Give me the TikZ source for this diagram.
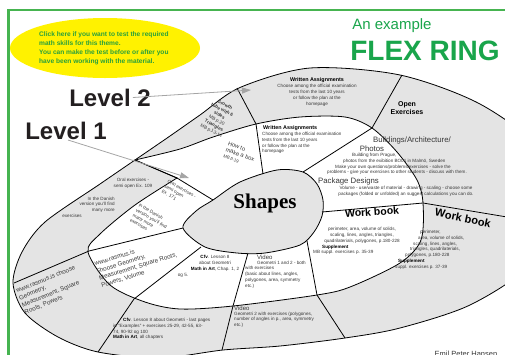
\documentclass[tikz,border=0pt]{standalone}
\usepackage{fontspec}
\setmainfont{Liberation Sans}
\newfontfamily\shapesfont{Liberation Serif}
\usetikzlibrary{arrows.meta,positioning}

\definecolor{framegreen}{RGB}{70,180,80}
\definecolor{titlegreen}{RGB}{25,165,75}
\definecolor{notegreen}{RGB}{40,160,60}
\definecolor{notefill}{RGB}{255,242,0}
\definecolor{ringgray}{RGB}{228,228,228}
\definecolor{textgray}{RGB}{55,55,55}
\definecolor{arrowgray}{RGB}{165,165,165}
\definecolor{levelgray}{RGB}{35,31,32}

\tikzset{
	note/.style = {align=left, inner sep=0pt, text=notegreen, font=\fontsize{6.6}{9}\selectfont\bfseries},
	smalltext/.style = {align=center, inner sep=0pt, text=textgray, font=\fontsize{4.6}{5.8}\selectfont},
	smallhead/.style = {align=center, inner sep=0pt, font=\fontsize{5.4}{6}\selectfont\bfseries},
	midtext/.style = {align=center, inner sep=0pt, text=textgray, font=\fontsize{7.8}{9}\selectfont},
	wwwtext/.style = {align=left, inner sep=0pt, text=textgray, font=\fontsize{6.2}{7.6}\selectfont},
	booktitle/.style = {inner sep=0pt, font=\fontsize{10.5}{11}\selectfont\bfseries},
	levellabel/.style = {inner sep=0pt, text=levelgray, font=\fontsize{24}{24}\selectfont\bfseries},
	levelarrow/.style = {draw=arrowgray, line width=0.8pt, -{Triangle[length=9pt,width=6pt]}},
	ringline/.style = {draw=black, line width=0.8pt}
}

\begin{document}
\begin{tikzpicture}[x=1pt, y=-1pt]
\useasboundingbox (0,0) rectangle (505,354);

% frame and heading
\draw[framegreen, line width=2.2pt] (8.5,356) -- (8.5,10) -- (507,10);
\fill[notefill] (105,48) ellipse [x radius=95pt, y radius=30pt];
\node[note, anchor=west] (notetext) at (39,48) {Click here if you want to test the required\\math skills for this theme.\\You can make the test before or after you\\have been working with the material.};
\node[inner sep=0pt, text=titlegreen, font=\fontsize{15}{15}\selectfont] (example) at (392,26) {An example};
\node[inner sep=0pt, text=titlegreen, font=\fontsize{28}{28}\selectfont\bfseries] (flexring) at (425,51) {FLEX RING};

% outer ring, inner ring and centre
\path[ringline, fill=ringgray] plot[smooth cycle] coordinates {
	(13,283) (22,252) (45,222) (100,184) (135,160) (170,136) (200,115) (240,87.5)
	(310,68) (400,75) (480,104) (540,150) (555,210) (530,265) (470,305) (400,328)
	(345,338) (280,346) (223,350) (160,358) (98,352) (58,337) (25,313)};
\path[ringline, fill=white] plot[smooth] coordinates {
	(135,160) (180,149) (213,137) (256,124) (300,117) (345,117) (372,128) (397,152)
	(417,180) (423,203) (421,240) (400,263) (350,287) (317,295) (233,306) (180,309)
	(145,302) (110,285) (88,252) (100,234) (135,205) (177,178)} -- cycle;
\path[ringline, fill=ringgray] plot[smooth cycle] coordinates {
	(183,228) (196,211) (213,200) (240,182) (277,170) (303,172) (317,184) (323,200)
	(322,216) (314,232) (300,245) (265,253) (237,253) (205,247)};

% dividers
\coordinate (d1a) at (135,160); \coordinate (d1b) at (177,178); \coordinate (d1c) at (213,200);
\coordinate (d2a) at (183,228); \coordinate (d2b) at (89,251);  \coordinate (d2c) at (14,283);
\coordinate (d3a) at (201,247); \coordinate (d3b) at (134,299); \coordinate (d3c) at (98,352);
\coordinate (d4a) at (237,88);  \coordinate (d4b) at (256,124); \coordinate (d4c) at (263,174);
\coordinate (d5a) at (402,75);  \coordinate (d5b) at (372,128); \coordinate (d5c) at (303,172);
\coordinate (d6a) at (322,212); \coordinate (d6b) at (423,203); \coordinate (d6c) at (507,217);
\coordinate (d7a) at (307,241); \coordinate (d7b) at (317,295); \coordinate (d7c) at (345,338);
\coordinate (d8a) at (248,253); \coordinate (d8b) at (233,306); \coordinate (d8c) at (222,350);
\foreach \d in {d1,d2,d3,d4,d5,d6,d7,d8}
	\draw[ringline] (\d a) -- (\d b) -- (\d c);

% level 2 texts
\node[smallhead] (wa2head) at (317,80) {Written Assignments};
\node[smalltext, below=1.5pt of wa2head] (wa2body) {Choose among the official examination\\tests from the last 10 years\\or follow the plan at the\\homepage};
\node[inner sep=0pt, align=center, font=\fontsize{7}{8}\selectfont\bfseries] (openex) at (407,108) {Open\\Exercises};
\node[booktitle, font=\fontsize{11}{11}\selectfont\bfseries, rotate=-12] (wb2head) at (463,218) {Work book};
\node[smalltext, align=left, anchor=north west] (wb2body) at (395,230) {\hspace*{25pt}perimeter,\\\hspace*{23pt}area, volume of solids,\\\hspace*{18pt}scaling, lines, angles,\\\hspace*{15pt}triangles, quadrilaterials,\\\hspace*{10pt}polygones, p.180-228\\\hspace*{3pt}\textcolor{black}{\textbf{Supplement}}\\suppl. exercises p. 37-39};
\node[inner sep=0pt, text=textgray, font=\fontsize{6}{6}\selectfont, anchor=west] (video2head) at (234,308) {Video};
\node[smalltext, align=left, anchor=north west] (video2body) at (234,311.5) {Geometri 2 with exercises (polygones,\\number of angles in p., area, symmetry\\etc.)};
\node[smalltext, align=left, anchor=north west] (lastpages) at (113,318) {\hspace*{10pt}\textcolor{black}{\textbf{Cfv}}. Lesson 8 about Geometri - last pages\\in "Examples" + exercises 25-29, 42-55, 63-\\74, 90-92 og 100\\\textcolor{black}{\textbf{Math in Art}}, all chapters};
\node[wwwtext, rotate=22] (www2) at (50,290) {www.rasmus.is choose\\Geometry,\\Measurement, Square\\Roots, Powers};
\node[smalltext] (oral109) at (133,183.5) {Oral exercises -\\semi open Ex. 109};
\node[smalltext, align=right, anchor=north east] (danish2) at (115,196.5) {In the Danish\\version you'll find\\many more\hspace*{22pt}\\exercises\hspace*{33pt}};
\node[smalltext, rotate=-28] (growth) at (218,118) {\textbf{Growth}\\\textbf{tube with 6}\\\textbf{sides}\\MB p.20\\\textbf{Triangles}\\MB p.13-14};

% level 1 texts
\node[smallhead, anchor=west] (wa1head) at (263,128) {Written Assignments};
\node[smalltext, align=left, anchor=north west] (wa1body) at (262,132) {Choose among the official examination\\tests from the last 10 years\\or follow the plan at the\\homepage};
\node[midtext] (bldhead) at (412,140) {Buildings/Architecture/};
\node[midtext] (photos) at (372,148.5) {Photos};
\node[smalltext, align=left, anchor=north west] (bldbody) at (327,153) {\hspace*{25pt}Building from Prague,\\\hspace*{16pt}photos from the exibition BO01 in Malmö, Sweden\\\hspace*{8pt}Make your own questions/problems/exercises - solve the\\problems - give your exercises to other students - discuss with them.};
\node[midtext, anchor=west] (pkghead) at (318,181) {Package Designs};
\node[smalltext] (pkgbody) at (406,191.5) {Volume - use/waste of material - drawing - scaling - choose some\\packages (folded or unfolded) an suggest calculations you can do.};
\node[booktitle, rotate=4] (wb1head) at (372,212) {Work book};
\node[smalltext] (wb1body) at (362,235.5) {perimeter, area, volume of solids,\\scaling, lines, angles, triangles,\\quadrilaterials, polygones, p.180-228};
\node[smalltext, align=left, anchor=north west] (wb1supp) at (313,244.5) {\hspace*{9pt}\textcolor{black}{\textbf{Supplement}}\\MB suppl. exercises p. 35-39};
\node[inner sep=0pt, text=textgray, font=\fontsize{6}{6}\selectfont, anchor=west] (video1head) at (257,257.5) {Video};
\node[smalltext, align=left, anchor=north west] (video1body) at (245,260.5) {\hspace*{12pt}Geometri 1 and 2 - both\\with exercises\\(basic about lines, angles,\\polygones, area, symmetry\\etc.)};
\node[smalltext] (lesson8) at (215,266.5) {\textcolor{black}{\textbf{Cfv}}. Lesson 8\\about Geometri\\\textcolor{black}{\textbf{Math in Art}}, Chap. 1, 2\\og 5.\hspace*{64pt}};
\node[wwwtext, rotate=17] (www1) at (137,263) {www.rasmus.is\\choose Geometry,\\Measurement, Square Roots,\\Powers, Volume};
\node[smalltext, align=left, rotate=-30] (oral171) at (179,194) {Oral exercises -\\semi open\\Ex. 171};
\node[smalltext, align=left, rotate=-30] (danish1) at (150,221) {In the Danish\\version you'll find\\many more\\exercises};
\node[inner sep=0pt, align=left, text=textgray, font=\fontsize{5.8}{6.4}\selectfont, rotate=-20] (makebox) at (240,155) {How to\\make a box\\{\fontsize{4.3}{5}\selectfont MB p.19}};

% centre
\node[inner sep=0pt, font=\fontsize{21}{21}\shapesfont\bfseries] (shapes) at (265,203) {Shapes};

% levels and their arrows
\node[levellabel] (lvltwo) at (110,97.5) {Level 2};
\node[levellabel] (lvlone) at (66,131) {Level 1};
\coordinate (lvltwotip) at (251,90);
\coordinate (lvlonetip) at (189,178);
\draw[levelarrow] ([xshift=-18pt]lvltwo.east) -- (lvltwotip);
\draw[levelarrow] ([xshift=2pt]lvlone.south) -- (lvlonetip);

\node[inner sep=0pt, anchor=base, text=textgray, font=\fontsize{7.5}{8}\selectfont] (signature) at (466,356) {Emil Peter Hansen};
\end{tikzpicture}
\end{document}
